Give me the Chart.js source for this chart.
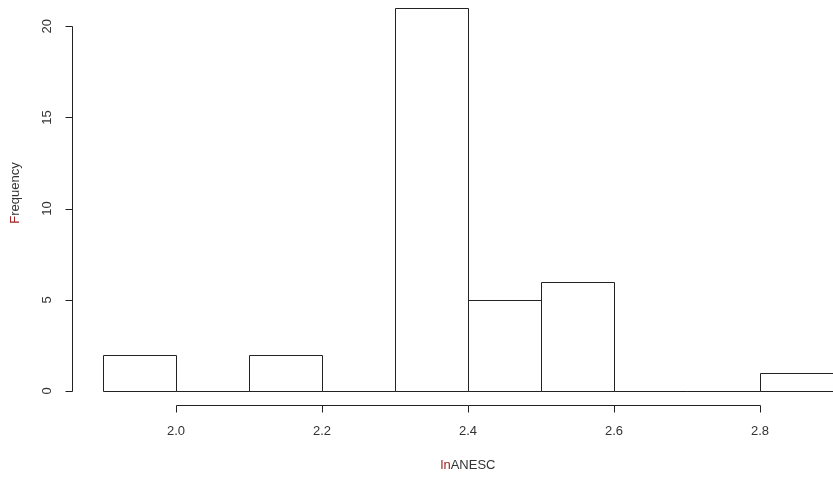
<!DOCTYPE html>
<html>
<head>
<meta charset="utf-8">
<script src="https://cdn.jsdelivr.net/npm/chart.js@4"></script>
<style>
  html, body { margin: 0; padding: 0; background: #fff; }
  #wrap { width: 833px; height: 481px; position: relative; }
</style>
</head>
<body>
<div id="wrap"><canvas id="hist"></canvas></div>
<script>
// histogram bins (centres) and counts
const binCenters = [1.95, 2.05, 2.15, 2.25, 2.35, 2.45, 2.55, 2.65, 2.75, 2.85]
const counts = [2, 0, 2, 0, 21, 5, 6, 0, 0, 1]
const xTicks = [2.0, 2.2, 2.4, 2.6, 2.8]
const yTicks = [0, 5, 10, 15, 20]
const xTitle = 'lnANESC'
const yTitle = 'Frequency'

const textColor = '#333'
const font = '13px "Liberation Sans", Arial, sans-serif'

// outline every bar with one crisp line (shared edges drawn once)
const barOutline = {
  id: 'barOutline',
  afterDatasetsDraw(chart) {
    const ctx = chart.ctx
    const meta = chart.getDatasetMeta(0)
    ctx.save()
    ctx.strokeStyle = '#222'
    ctx.lineWidth = 1
    ctx.beginPath()
    meta.data.forEach(bar => {
      const l = Math.round(bar.x - bar.width / 2) + 0.5
      const r = Math.round(bar.x + bar.width / 2) + 0.5
      const t = Math.round(bar.y) + 0.5
      const b = Math.round(bar.base) + 0.5
      ctx.rect(l, t, r - l, b - t)
    })
    ctx.stroke()
    ctx.restore()
  }
}

// R-style axes drawn by hand
const rAxes = {
  id: 'rAxes',
  afterDraw(chart) {
    const ctx = chart.ctx
    const x = chart.scales.x
    const y = chart.scales.y
    ctx.save()
    ctx.strokeStyle = '#222'
    ctx.lineWidth = 1
    ctx.fillStyle = textColor
    ctx.font = font

    const y0 = Math.round(y.getPixelForValue(0)) + 0.5

    // x axis
    const ax = y0 + 14
    ctx.beginPath()
    ctx.moveTo(Math.round(x.getPixelForValue(xTicks[0])) + 0.5, ax)
    ctx.lineTo(Math.round(x.getPixelForValue(xTicks[xTicks.length - 1])) + 0.5, ax)
    xTicks.forEach(t => {
      const px = Math.round(x.getPixelForValue(t)) + 0.5
      ctx.moveTo(px, ax)
      ctx.lineTo(px, ax + 7)
    })
    ctx.stroke()
    ctx.textAlign = 'center'
    ctx.textBaseline = 'middle'
    xTicks.forEach(t => {
      ctx.fillText(t.toFixed(1), x.getPixelForValue(t), ax + 26)
    })

    // y axis
    const ayx = 72.5
    ctx.beginPath()
    ctx.moveTo(ayx, Math.round(y.getPixelForValue(yTicks[0])) + 0.5)
    ctx.lineTo(ayx, Math.round(y.getPixelForValue(yTicks[yTicks.length - 1])) + 0.5)
    yTicks.forEach(t => {
      const py = Math.round(y.getPixelForValue(t)) + 0.5
      ctx.moveTo(ayx, py)
      ctx.lineTo(ayx - 7, py)
    })
    ctx.stroke()
    yTicks.forEach(t => {
      ctx.save()
      ctx.translate(47, y.getPixelForValue(t))
      ctx.rotate(-Math.PI / 2)
      ctx.fillText(String(t), 0, 0)
      ctx.restore()
    })

    // titles, first letters tinted red
    const drawTitle = (txt, redLen, cx, cy) => {
      const w = ctx.measureText(txt).width
      let sx = cx - w / 2
      ctx.textAlign = 'left'
      ctx.fillStyle = '#a02020'
      ctx.fillText(txt.slice(0, redLen), sx, cy)
      sx += ctx.measureText(txt.slice(0, redLen)).width
      ctx.fillStyle = textColor
      ctx.fillText(txt.slice(redLen), sx, cy)
    }
    drawTitle(xTitle, 2, 468, 465)
    ctx.save()
    ctx.translate(15, 193)
    ctx.rotate(-Math.PI / 2)
    drawTitle(yTitle, 1, 0, 0)
    ctx.restore()

    ctx.restore()
  }
}

new Chart(document.getElementById('hist').getContext('2d'), {
  type: 'bar',
  data: {
    datasets: [
      {
        data: binCenters.map((c, i) => ({ x: c, y: counts[i] })),
        backgroundColor: 'rgba(0,0,0,0)',
        borderWidth: 0,
        barPercentage: 1,
        categoryPercentage: 1,
        clip: false
      }
    ]
  },
  options: {
    responsive: true,
    maintainAspectRatio: false,
    animation: false,
    layout: {
      padding: { left: 103, right: 0, top: 8, bottom: 90 }
    },
    plugins: {
      legend: { display: false },
      tooltip: { enabled: false }
    },
    scales: {
      x: {
        type: 'linear',
        min: 1.9,
        max: 2.9,
        offset: false,
        display: false
      },
      y: {
        min: 0,
        max: 21,
        display: false
      }
    }
  },
  plugins: [barOutline, rAxes]
})
</script>
</body>
</html>
